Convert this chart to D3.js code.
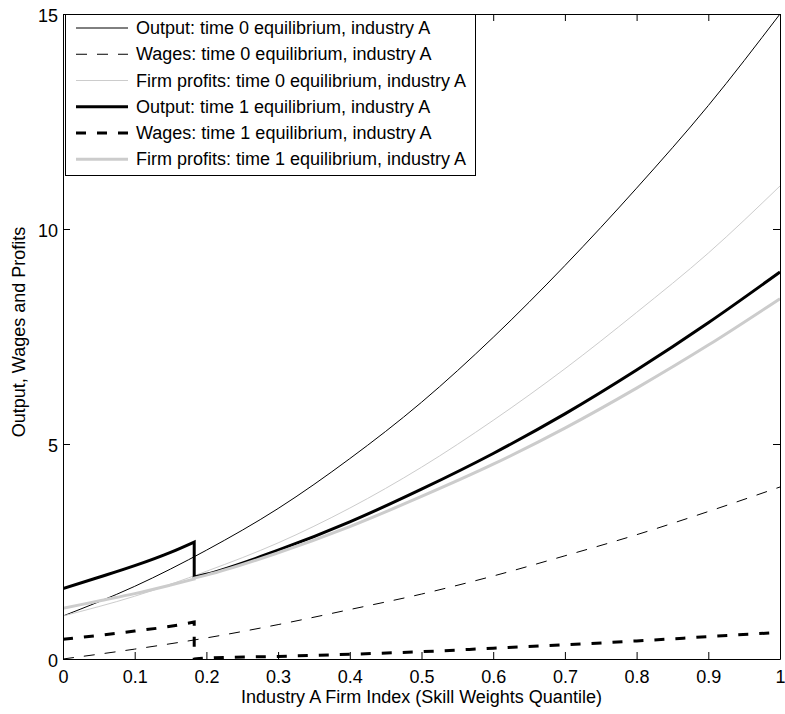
<!DOCTYPE html>
<html>
<head>
<meta charset="utf-8">
<script src="https://cdn.jsdelivr.net/npm/d3@7"></script>
<style>
  body { margin: 0; background: #fff; }
  text { font-family: "Liberation Sans", Arial, Helvetica, sans-serif; font-size: 18px; fill: #000; }
</style>
</head>
<body>
<div id="container"></div>
<script>

// 1 - DATA

// axis ticks and labels
const xTicks = [0, 0.1, 0.2, 0.3, 0.4, 0.5, 0.6, 0.7, 0.8, 0.9, 1];
const xTickLabels = ["0", "0.1", "0.2", "0.3", "0.4", "0.5", "0.6", "0.7", "0.8", "0.9", "1"];
const yTicks = [0, 5, 10, 15];
const yTickLabels = ["0", "5", "10", "15"];

// time 0 equilibrium (smooth over the whole index)
const xTime0 = [0, 0.1, 0.2, 0.3, 0.4, 0.5, 0.6, 0.7, 0.8, 0.9, 1];
const output0 = [1.00, 1.69, 2.53, 3.50, 4.66, 5.97, 7.48, 9.15, 10.95, 12.87, 15.00];
const wages0 = [0.00, 0.23, 0.49, 0.80, 1.15, 1.51, 1.93, 2.40, 2.89, 3.43, 4.00];
const profits0 = [1.00, 1.46, 2.04, 2.70, 3.51, 4.46, 5.55, 6.75, 8.06, 9.44, 11.00];

// time 1 equilibrium (jumps at the cutoff firm, x = 0.183)
const xTime1 = [0, 0.05, 0.1, 0.15, 0.183, 0.183, 0.2, 0.3, 0.4, 0.5, 0.6, 0.7, 0.8, 0.9, 1];
const output1 = [1.64, 1.90, 2.17, 2.48, 2.72, 1.90, 1.97, 2.53, 3.19, 3.95, 4.78, 5.70, 6.72, 7.82, 9.00];
const wages1 = [0.46, 0.55, 0.65, 0.76, 0.86, 0.00, 0.02, 0.06, 0.11, 0.17, 0.25, 0.33, 0.42, 0.52, 0.62];
const profits1 = [1.18, 1.35, 1.52, 1.72, 1.86, 1.88, 1.95, 2.47, 3.08, 3.78, 4.53, 5.37, 6.30, 7.30, 8.38];
const jumpIndex = 5; // time 1 series restart here

const seriesNames = [
  "Output: time 0 equilibrium, industry A",
  "Wages: time 0 equilibrium, industry A",
  "Firm profits: time 0 equilibrium, industry A",
  "Output: time 1 equilibrium, industry A",
  "Wages: time 1 equilibrium, industry A",
  "Firm profits: time 1 equilibrium, industry A"
];

// 2 - LAYOUT

const width = 785;
const height = 714;
const margins = { top: 14, right: 5, bottom: 55, left: 63 };

// line styles, same order as seriesNames
const styles = [
  { color: "#000", w: 1, dash: null },
  { color: "#000", w: 1, dash: "11,10" },
  { color: "#ccc", w: 1, dash: null },
  { color: "#000", w: 3, dash: null },
  { color: "#000", w: 3, dash: "10,11" },
  { color: "#ccc", w: 3, dash: null }
];

const series = [
  { xs: xTime0, ys: output0 },
  { xs: xTime0, ys: wages0 },
  { xs: xTime0, ys: profits0 },
  { xs: xTime1, ys: output1 },
  { xs: xTime1, ys: wages1 },
  { xs: xTime1, ys: profits1 }
];

// 3 - SCALES

const xScale = d3.scaleLinear()
  .domain([0, 1])
  .range([margins.left, width - margins.right]);

const yScale = d3.scaleLinear()
  .domain([0, 15])
  .range([height - margins.bottom, margins.top]);

// 4 - ELEMENTS

const svg = d3.select("#container")
  .append("svg")
  .attr("width", width)
  .attr("height", height);

svg.append("clipPath")
  .attr("id", "plot-clip")
  .append("rect")
  .attr("x", margins.left)
  .attr("y", margins.top)
  .attr("width", width - margins.left - margins.right + 1)
  .attr("height", height - margins.top - margins.bottom + 1);

// 5 - LINES

const lineGen = d3.line()
  .x(d => xScale(d[0]))
  .y(d => yScale(d[1]))
  .curve(d3.curveMonotoneX);

// time 1 series have a vertical jump: draw both pieces as one path
function pathFor(s) {
  const pts = s.xs.map((x, i) => [x, s.ys[i]]);
  if (s.xs === xTime1) {
    const pre = lineGen(pts.slice(0, jumpIndex));
    const post = lineGen(pts.slice(jumpIndex)).replace(/^M/, "L");
    return pre + post;
  }
  return lineGen(pts);
}

svg.append("g")
  .attr("clip-path", "url(#plot-clip)")
  .selectAll("path")
  .data(series)
  .join("path")
  .attr("d", d => pathFor(d))
  .attr("fill", "none")
  .attr("stroke", (d, i) => styles[i].color)
  .attr("stroke-width", (d, i) => styles[i].w)
  .attr("stroke-dasharray", (d, i) => styles[i].dash);

// 6 - AXES - matlab box with inward ticks

svg.append("g")
  .attr("transform", `translate(0,${height - margins.bottom})`)
  .call(d3.axisBottom(xScale)
    .tickValues(xTicks)
    .tickFormat((d, i) => xTickLabels[i])
    .tickSizeInner(-7)
    .tickSizeOuter(0)
    .tickPadding(11));

svg.append("g")
  .attr("transform", `translate(0,${margins.top})`)
  .call(d3.axisTop(xScale)
    .tickValues(xTicks)
    .tickFormat("")
    .tickSizeInner(-7)
    .tickSizeOuter(0));

const yAxis = svg.append("g")
  .attr("transform", `translate(${margins.left},0)`)
  .call(d3.axisLeft(yScale)
    .tickValues(yTicks)
    .tickFormat((d, i) => yTickLabels[i])
    .tickSizeInner(-7)
    .tickSizeOuter(0)
    .tickPadding(5));

svg.append("g")
  .attr("transform", `translate(${width - margins.right},0)`)
  .call(d3.axisRight(yScale)
    .tickValues(yTicks)
    .tickFormat("")
    .tickSizeInner(-7)
    .tickSizeOuter(0));

svg.selectAll(".domain, .tick line").attr("stroke", "#000");
svg.selectAll(".tick text")
  .attr("font-size", null)
  .attr("font-family", null);
yAxis.selectAll(".tick text").attr("dy", "0.42em");

// axis titles
svg.append("text")
  .attr("x", (margins.left + width - margins.right) / 2)
  .attr("y", 703)
  .attr("text-anchor", "middle")
  .text("Industry A Firm Index (Skill Weights Quantile)");

svg.append("text")
  .attr("transform", "translate(25,332) rotate(-90)")
  .attr("text-anchor", "middle")
  .text("Output, Wages and Profits");

// 7 - LEGEND

const legend = svg.append("g");

legend.append("rect")
  .attr("x", 65.5)
  .attr("y", 14.5)
  .attr("width", 410)
  .attr("height", 161)
  .attr("fill", "#fff")
  .attr("stroke", "#000")
  .attr("stroke-width", 1);

const rowY = i => 28 + i * 26.25;

legend.selectAll("line")
  .data(seriesNames)
  .join("line")
  .attr("x1", 76)
  .attr("x2", 128)
  .attr("y1", (d, i) => rowY(i))
  .attr("y2", (d, i) => rowY(i))
  .attr("stroke", (d, i) => styles[i].color)
  .attr("stroke-width", (d, i) => styles[i].w)
  .attr("stroke-dasharray", (d, i) => styles[i].dash);

legend.selectAll("text")
  .data(seriesNames)
  .join("text")
  .attr("x", 136)
  .attr("y", (d, i) => rowY(i) + 6)
  .text(d => d);

</script>
</body>
</html>
